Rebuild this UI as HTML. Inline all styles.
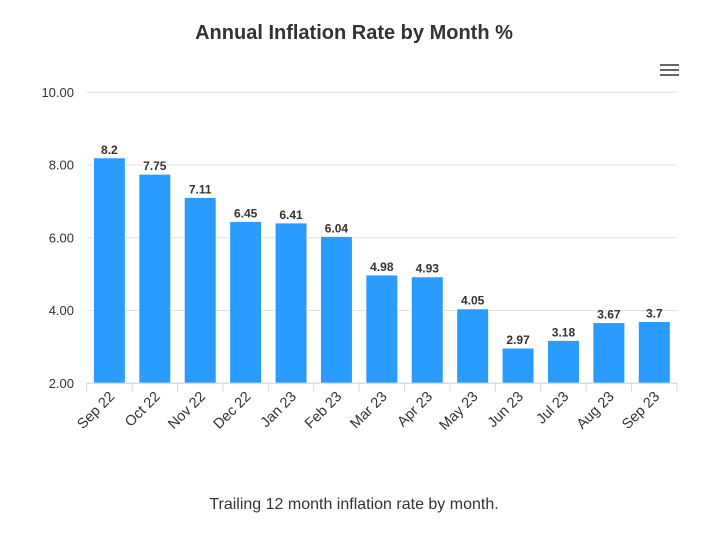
<!DOCTYPE html>
<html><head><meta charset="utf-8"><style>
body{margin:0;background:#fff;font-family:"Liberation Sans",sans-serif}
</style></head><body>
<svg width="708" height="537" xmlns="http://www.w3.org/2000/svg">
<rect width="708" height="537" fill="#fff"/>
<text x="354" y="39" text-anchor="middle" font-size="20" font-weight="bold" fill="#333">Annual Inflation Rate by Month %</text>
<g stroke="#666" stroke-width="2">
<line x1="660" y1="65" x2="679" y2="65"/><line x1="660" y1="70" x2="679" y2="70"/><line x1="660" y1="75" x2="679" y2="75"/></g>
<g id="grid"></g><g id="bars"></g><g id="xaxis"></g>
<text x="354" y="509" text-anchor="middle" font-size="16" fill="#333">Trailing 12 month inflation rate by month.</text>
</svg>
<script>
const categories=["Sep 22","Oct 22","Nov 22","Dec 22","Jan 23","Feb 23","Mar 23","Apr 23","May 23","Jun 23","Jul 23","Aug 23","Sep 23"];
const values=[8.2,7.75,7.11,6.45,6.41,6.04,4.98,4.93,4.05,2.97,3.18,3.67,3.7];
const yTicks=[2,4,6,8,10];
const NS="http://www.w3.org/2000/svg";
const x0=86.7,x1=677,yMin=2,yMax=10,yTop=92.3,yBot=383.3;
const step=(x1-x0)/categories.length;
const y=v=>yBot-(v-yMin)/(yMax-yMin)*(yBot-yTop);
function mk(t,a,p){const e=document.createElementNS(NS,t);for(const k in a)e.setAttribute(k,a[k]);p.appendChild(e);return e;}
const g=document.getElementById('grid'),b=document.getElementById('bars'),xa=document.getElementById('xaxis');
yTicks.forEach(v=>{
 const l=mk('line',{x1:x0,x2:x1,y1:y(v),y2:y(v),stroke:'#e0e0e0','stroke-width':1},g);
 
 
 const t=mk('text',{x:74,y:y(v)+4.5,'text-anchor':'end','font-size':13,fill:'#333'},g);
 t.textContent=v.toFixed(2);
 
 
});
const ax=mk('line',{x1:x0,x2:x1,y1:yBot,y2:yBot,stroke:'#ccd6eb','stroke-width':1},xa);


for(let i=0;i<=categories.length;i++){
 const tk=mk('line',{x1:x0+i*step,x2:x0+i*step,y1:yBot,y2:yBot+8,stroke:'#ccd6eb'},xa);
 
 
}
categories.forEach((c,i)=>{
 const cx=x0+step*(i+0.5),bw=32;
 const r=mk('rect',{x:cx-bw/2,y:y(values[i]),width:bw,height:yBot-y(values[i]),fill:'#2b9cff',stroke:'#fff','stroke-width':1},b);
 
 
 const t=mk('text',{x:cx,y:y(values[i])-4,'text-anchor':'middle','font-size':12,'font-weight':'bold',fill:'#333'},b);
 t.textContent=String(values[i]);
 
 
 const lx=cx+6,ly=yBot+14;
 const xl=mk('text',{x:lx,y:ly,'text-anchor':'end','font-size':14.5,fill:'#333',transform:`rotate(-45 ${lx} ${ly})`},xa);
 xl.textContent=c;
 
 
});
</script>
</body></html>
